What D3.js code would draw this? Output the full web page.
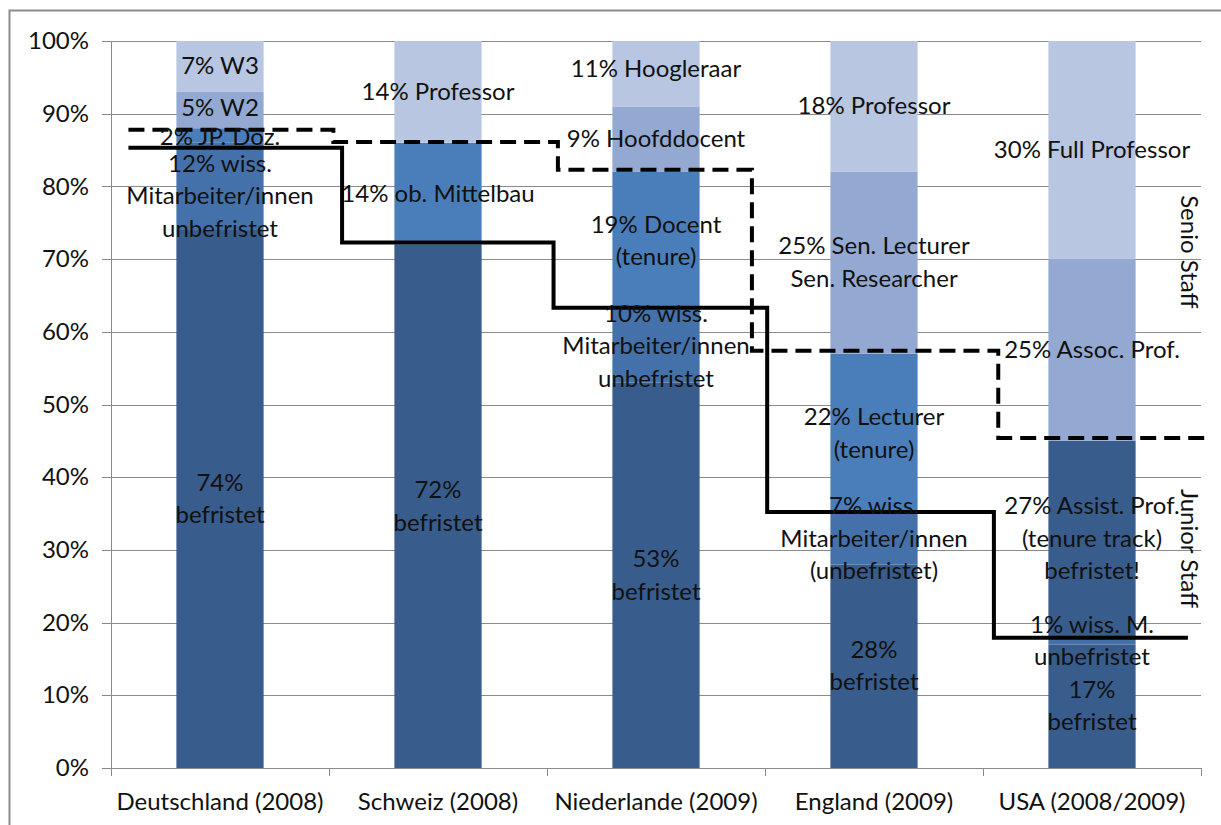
<!DOCTYPE html>
<html>
<head>
<meta charset="utf-8">
<script src="https://cdn.jsdelivr.net/npm/d3@7/dist/d3.min.js"></script>
<style>
  html, body { margin: 0; padding: 0; background: #fff; }
  svg { display: block; }
  text { font-family: Lato, "Open Sans", sans-serif; fill: #111; }
</style>
</head>
<body>
<svg id="chart" width="1221" height="825"></svg>
<script>
// ---------- data ----------
const categories = ["Deutschland (2008)", "Schweiz (2008)", "Niederlande (2009)", "England (2009)", "USA (2008/2009)"];

// stacked series, bottom to top (percent)
const befristet       = [74, 72, 53, 28, 17];
const wissUnbefristet = [12, 0, 10, 7, 1];
const mittelbau       = [2, 14, 19, 22, 27];
const mittelbauIsBefristet = [false, false, false, false, true];
const seniorMid       = [5, 0, 9, 25, 25];
const seniorTop       = [7, 14, 11, 18, 30];

const labelsBefristet = ["74%\nbefristet", "72%\nbefristet", "53%\nbefristet", "28%\nbefristet", "17%\nbefristet"];
const labelsWiss      = ["12% wiss.\nMitarbeiter/innen\nunbefristet", "", "10% wiss.\nMitarbeiter/innen\nunbefristet", "7% wiss.\nMitarbeiter/innen\n(unbefristet)", "1% wiss. M.\nunbefristet"];
const labelsMittelbau = ["2% JP. Doz.", "14% ob. Mittelbau", "19% Docent\n(tenure)", "22% Lecturer\n(tenure)", "27% Assist. Prof.\n(tenure track)\nbefristet!"];
const labelsSeniorMid = ["5% W2", "", "9% Hoofddocent", "25% Sen. Lecturer\nSen. Researcher", "25% Assoc. Prof."];
const labelsSeniorTop = ["7% W3", "14% Professor", "11% Hoogleraar", "18% Professor", "30% Full Professor"];

// step lines: level per country and break positions (in category units 0..5)
const solidLevels  = [85.3, 72.3, 63.3, 35.2, 17.9];
const solidBreaks  = [0.08, 1.06, 2.03, 3.01, 4.05, 4.94];
const dashedLevels = [87.8, 86.1, 82.3, 57.4, 45.4];
const dashedBreaks = [0.08, 1.02, 2.05, 2.94, 4.07, 5.05];

const yTicks = [0, 10, 20, 30, 40, 50, 60, 70, 80, 90, 100];
const sideLabels = [{text: "Senio Staff", at: 71}, {text: "Junior Staff", at: 30.2}];

// ---------- layout ----------
const svg = d3.select("#chart");
const pLeft = 111, pRight = 1201, pTop = 41, pBottom = 768;
const fs = "24px";

const x = d3.scaleBand().domain(categories).range([pLeft, pRight]).paddingInner(0).paddingOuter(0);
const xu = d3.scaleLinear().domain([0, categories.length]).range([pLeft, pRight]);
const y = d3.scaleLinear().domain([0, 100]).range([pBottom, pTop]);
const barW = x.bandwidth() * 0.4;

const colors = {
  befristet: "#385d8c",
  wiss: "#4471aa",
  mittelbau: "#4a7ebb",
  seniorMid: "#94a9d2",
  seniorTop: "#b8c6e1"
};

// outer frame
svg.append("rect").attr("x", 9.5).attr("y", 10.5).attr("width", 1214).attr("height", 820)
  .attr("fill", "none").attr("stroke", "#8c8c8c").attr("stroke-width", 2);

// gridlines
svg.append("g").selectAll("line").data(yTicks).join("line")
  .attr("x1", pLeft - 9).attr("x2", pRight)
  .attr("y1", d => Math.round(y(d)) + 0.5).attr("y2", d => Math.round(y(d)) + 0.5)
  .attr("stroke", "#8a8a8a").attr("stroke-width", 1);

// y axis
const yAxis = d3.axisLeft(y).tickValues(yTicks).tickFormat(d => d + "%").tickSize(0).tickPadding(22);
const gy = svg.append("g").attr("transform", `translate(${pLeft},0)`).call(yAxis);
gy.select(".domain").remove();
gy.selectAll("text").style("font-size", fs).style("font-family", "Lato, sans-serif").attr("fill", "#111");
svg.append("line").attr("x1", pLeft + 0.5).attr("x2", pLeft + 0.5).attr("y1", pTop).attr("y2", pBottom)
  .attr("stroke", "#8a8a8a");

// x axis
svg.append("line").attr("x1", pLeft).attr("x2", pRight).attr("y1", pBottom + 0.5).attr("y2", pBottom + 0.5).attr("stroke", "#8a8a8a");
svg.append("g").selectAll("line").data(d3.range(categories.length + 1)).join("line")
  .attr("x1", d => Math.round(xu(d)) + 0.5).attr("x2", d => Math.round(xu(d)) + 0.5)
  .attr("y1", pBottom).attr("y2", pBottom + 8).attr("stroke", "#8a8a8a");
svg.append("g").selectAll("text").data(categories).join("text")
  .attr("x", d => x(d) + x.bandwidth() / 2).attr("y", pBottom + 42)
  .attr("text-anchor", "middle").style("font-size", fs).text(d => d);

// stacked bars
const seriesDefs = [
  {values: befristet, labels: labelsBefristet, color: () => colors.befristet},
  {values: wissUnbefristet, labels: labelsWiss, color: () => colors.wiss},
  {values: mittelbau, labels: labelsMittelbau, color: i => mittelbauIsBefristet[i] ? colors.befristet : colors.mittelbau},
  {values: seniorMid, labels: labelsSeniorMid, color: () => colors.seniorMid},
  {values: seniorTop, labels: labelsSeniorTop, color: () => colors.seniorTop}
];

const segs = [];
categories.forEach((c, i) => {
  let base = 0;
  seriesDefs.forEach((s, si) => {
    const v = s.values[i];
    const y0 = base, y1 = Math.min(100, base + v);
    segs.push({cat: c, i, si, y0, y1, color: s.color(i), label: s.labels[i]});
    base += v;
  });
});

svg.append("g").selectAll("rect").data(segs.filter(d => d.y1 > d.y0)).join("rect")
  .attr("x", d => x(d.cat) + (x.bandwidth() - barW) / 2)
  .attr("width", barW)
  .attr("y", d => y(d.y1))
  .attr("height", d => y(d.y0) - y(d.y1))
  .attr("fill", d => d.color);

// step lines
function stepPath(levels, breaks) {
  const pts = [];
  levels.forEach((lv, k) => {
    pts.push([xu(breaks[k]), y(lv)]);
    pts.push([xu(breaks[k + 1]), y(lv)]);
  });
  return d3.line()(pts);
}
svg.append("path").attr("d", stepPath(dashedLevels, dashedBreaks))
  .attr("fill", "none").attr("stroke", "#000").attr("stroke-width", 4)
  .attr("stroke-dasharray", "16,8");
svg.append("path").attr("d", stepPath(solidLevels, solidBreaks))
  .attr("fill", "none").attr("stroke", "#000").attr("stroke-width", 4);

// data labels (centered in segment)
const lineH = 32.5;
const labelNudge = {"0-1": 10, "0-2": 1, "0-3": -2, "2-4": -5};
const lg = svg.append("g");
segs.filter(d => d.label).forEach(d => {
  const lines = d.label.split("\n");
  const cy = y((d.y0 + d.y1) / 2) + (labelNudge[d.i + "-" + d.si] || 0);
  const t = lg.append("text").attr("text-anchor", "middle").style("font-size", fs);
  lines.forEach((ln, k) => {
    t.append("tspan").attr("x", x(d.cat) + x.bandwidth() / 2)
      .attr("y", cy + (k - (lines.length - 1) / 2) * lineH + 8).text(ln);
  });
});

// side labels (rotated)
sideLabels.forEach(s => {
  svg.append("text").attr("transform", `translate(1181,${y(s.at)}) rotate(90)`)
    .attr("text-anchor", "middle").style("font-size", fs).text(s.text);
});
</script>
</body>
</html>
